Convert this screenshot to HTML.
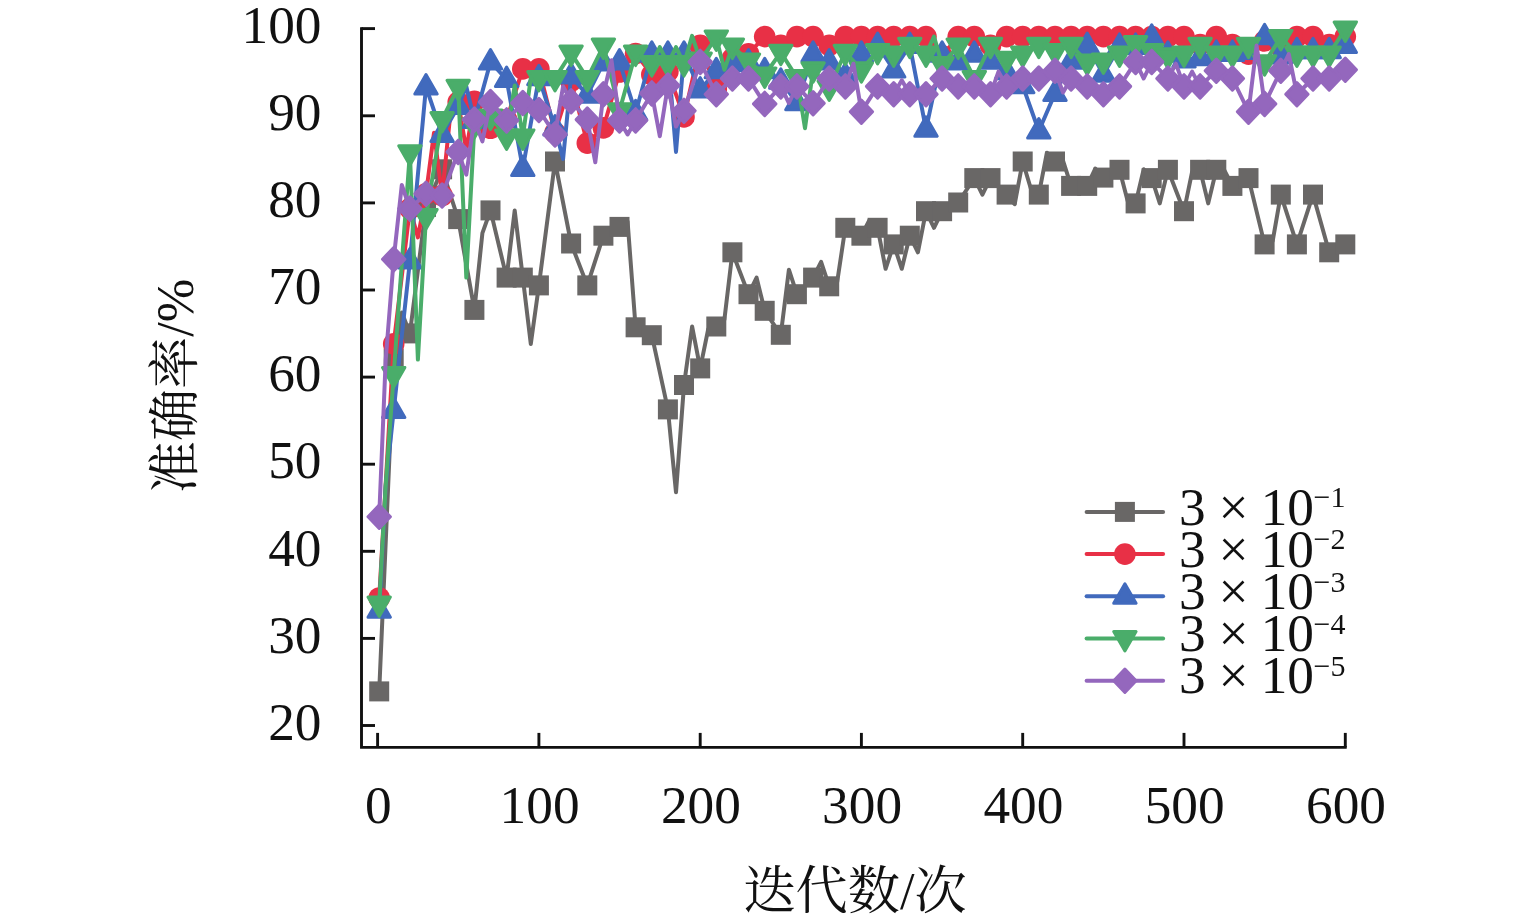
<!DOCTYPE html>
<html lang="zh-CN">
<head>
<meta charset="utf-8">
<title>准确率 / 迭代数</title>
<style>
html,body{margin:0;padding:0;background:#ffffff;}
body{width:1535px;height:924px;overflow:hidden;}
svg{display:block;font-family:"Liberation Serif","Noto Serif CJK SC",serif;}
</style>
</head>
<body>
<svg width="1535" height="924" viewBox="0 0 1535 924">
<rect width="1535" height="924" fill="#ffffff"/>
<g id="axes" stroke="#111111" fill="none" stroke-linecap="butt">
<path d="M361.5,27.2 V747.4 H1346.7" stroke-width="2.9" stroke-linejoin="miter"/>
<line x1="361.5" x2="375.0" y1="725.5" y2="725.5" stroke-width="2.9"/>
<line x1="361.5" x2="375.0" y1="638.4" y2="638.4" stroke-width="2.9"/>
<line x1="361.5" x2="375.0" y1="551.3" y2="551.3" stroke-width="2.9"/>
<line x1="361.5" x2="375.0" y1="464.2" y2="464.2" stroke-width="2.9"/>
<line x1="361.5" x2="375.0" y1="377.1" y2="377.1" stroke-width="2.9"/>
<line x1="361.5" x2="375.0" y1="290.0" y2="290.0" stroke-width="2.9"/>
<line x1="361.5" x2="375.0" y1="202.9" y2="202.9" stroke-width="2.9"/>
<line x1="361.5" x2="375.0" y1="115.8" y2="115.8" stroke-width="2.9"/>
<line x1="361.5" x2="375.0" y1="28.6" y2="28.6" stroke-width="2.9"/>
<line x1="377.6" x2="377.6" y1="747.4" y2="732.9" stroke-width="2.9"/>
<line x1="538.9" x2="538.9" y1="747.4" y2="732.9" stroke-width="2.9"/>
<line x1="700.2" x2="700.2" y1="747.4" y2="732.9" stroke-width="2.9"/>
<line x1="861.4" x2="861.4" y1="747.4" y2="732.9" stroke-width="2.9"/>
<line x1="1022.7" x2="1022.7" y1="747.4" y2="732.9" stroke-width="2.9"/>
<line x1="1184.0" x2="1184.0" y1="747.4" y2="732.9" stroke-width="2.9"/>
<line x1="1345.3" x2="1345.3" y1="747.4" y2="732.9" stroke-width="2.9"/>
</g>
<g id="yticks" font-size="53.3" text-anchor="end" fill="#111111">
<text x="321.5" y="739.7">20</text>
<text x="321.5" y="652.6">30</text>
<text x="321.5" y="565.5">40</text>
<text x="321.5" y="478.4">50</text>
<text x="321.5" y="391.3">60</text>
<text x="321.5" y="304.2">70</text>
<text x="321.5" y="217.1">80</text>
<text x="321.5" y="130.0">90</text>
<text x="321.5" y="42.8">100</text>
</g>
<g id="xticks" font-size="53.3" text-anchor="middle" fill="#111111">
<text x="378.3" y="823.0">0</text>
<text x="539.6" y="823.0">100</text>
<text x="700.9" y="823.0">200</text>
<text x="862.1" y="823.0">300</text>
<text x="1023.4" y="823.0">400</text>
<text x="1184.7" y="823.0">500</text>
<text x="1346.0" y="823.0">600</text>
</g>
<text id="xlabel" x="855" y="909" font-size="52.2" text-anchor="middle" fill="#111111">迭代数/次</text>
<text id="ylabel" transform="translate(193,386) rotate(-90)" font-size="52.2" text-anchor="middle" fill="#111111">准确率/%</text>
<g id="s-gray">
<polyline points="379.2,691.4 393.7,358.8 401.8,312.5 409.9,333.4 426.0,206.9 442.1,169.3 458.2,219.1 474.4,309.9 482.4,233.1 490.5,210.4 506.6,277.6 514.7,210.4 522.8,277.6 530.8,343.9 538.9,285.4 555.0,161.5 571.1,243.5 587.3,285.4 603.4,235.7 619.5,226.9 627.6,221.7 635.6,327.3 651.8,335.2 667.9,409.4 676.0,492.3 684.0,385.0 692.1,326.5 700.2,368.4 708.2,329.1 716.3,326.5 724.4,319.5 732.4,252.3 748.5,294.2 756.6,277.6 764.7,310.8 780.8,334.8 788.9,269.7 796.9,294.2 813.1,277.6 821.1,261.9 829.2,286.3 837.2,281.9 845.3,227.8 861.4,235.7 869.5,220.0 877.6,227.8 885.6,268.8 893.7,244.4 901.8,268.8 909.8,235.7 917.9,252.3 926.0,211.2 934.0,227.8 942.1,211.2 958.2,202.5 974.3,178.1 982.4,194.6 990.5,178.1 1006.6,194.6 1014.7,204.2 1022.7,161.5 1030.8,188.5 1038.8,194.6 1046.9,152.7 1055.0,161.5 1063.0,160.6 1071.1,185.9 1087.2,185.9 1095.3,168.5 1103.4,177.6 1119.5,169.8 1127.6,200.8 1135.6,203.4 1143.7,169.3 1151.7,178.1 1159.8,203.4 1167.9,169.8 1184.0,211.2 1192.1,171.9 1200.1,169.8 1208.2,203.4 1216.3,169.8 1224.3,170.2 1232.4,185.9 1248.5,178.1 1264.6,244.4 1272.7,240.9 1280.8,194.6 1296.9,244.4 1313.0,194.6 1329.2,252.3 1345.3,244.4" fill="none" stroke="#696766" stroke-width="4.0" stroke-linejoin="round" stroke-linecap="round"/>
<rect x="369.2" y="681.4" width="20.0" height="20.0" fill="#696766"/>
<rect x="383.7" y="348.8" width="20.0" height="20.0" fill="#696766"/>
<rect x="399.9" y="323.4" width="20.0" height="20.0" fill="#696766"/>
<rect x="416.0" y="196.9" width="20.0" height="20.0" fill="#696766"/>
<rect x="432.1" y="159.3" width="20.0" height="20.0" fill="#696766"/>
<rect x="448.2" y="209.1" width="20.0" height="20.0" fill="#696766"/>
<rect x="464.4" y="299.9" width="20.0" height="20.0" fill="#696766"/>
<rect x="480.5" y="200.4" width="20.0" height="20.0" fill="#696766"/>
<rect x="496.6" y="267.6" width="20.0" height="20.0" fill="#696766"/>
<rect x="512.8" y="267.6" width="20.0" height="20.0" fill="#696766"/>
<rect x="528.9" y="275.4" width="20.0" height="20.0" fill="#696766"/>
<rect x="545.0" y="151.5" width="20.0" height="20.0" fill="#696766"/>
<rect x="561.1" y="233.5" width="20.0" height="20.0" fill="#696766"/>
<rect x="577.3" y="275.4" width="20.0" height="20.0" fill="#696766"/>
<rect x="593.4" y="225.7" width="20.0" height="20.0" fill="#696766"/>
<rect x="609.5" y="216.9" width="20.0" height="20.0" fill="#696766"/>
<rect x="625.6" y="317.3" width="20.0" height="20.0" fill="#696766"/>
<rect x="641.8" y="325.2" width="20.0" height="20.0" fill="#696766"/>
<rect x="657.9" y="399.4" width="20.0" height="20.0" fill="#696766"/>
<rect x="674.0" y="375.0" width="20.0" height="20.0" fill="#696766"/>
<rect x="690.2" y="358.4" width="20.0" height="20.0" fill="#696766"/>
<rect x="706.3" y="316.5" width="20.0" height="20.0" fill="#696766"/>
<rect x="722.4" y="242.3" width="20.0" height="20.0" fill="#696766"/>
<rect x="738.5" y="284.2" width="20.0" height="20.0" fill="#696766"/>
<rect x="754.7" y="300.8" width="20.0" height="20.0" fill="#696766"/>
<rect x="770.8" y="324.8" width="20.0" height="20.0" fill="#696766"/>
<rect x="786.9" y="284.2" width="20.0" height="20.0" fill="#696766"/>
<rect x="803.1" y="267.6" width="20.0" height="20.0" fill="#696766"/>
<rect x="819.2" y="276.3" width="20.0" height="20.0" fill="#696766"/>
<rect x="835.3" y="217.8" width="20.0" height="20.0" fill="#696766"/>
<rect x="851.4" y="225.7" width="20.0" height="20.0" fill="#696766"/>
<rect x="867.6" y="217.8" width="20.0" height="20.0" fill="#696766"/>
<rect x="883.7" y="234.4" width="20.0" height="20.0" fill="#696766"/>
<rect x="899.8" y="225.7" width="20.0" height="20.0" fill="#696766"/>
<rect x="916.0" y="201.2" width="20.0" height="20.0" fill="#696766"/>
<rect x="932.1" y="201.2" width="20.0" height="20.0" fill="#696766"/>
<rect x="948.2" y="192.5" width="20.0" height="20.0" fill="#696766"/>
<rect x="964.3" y="168.1" width="20.0" height="20.0" fill="#696766"/>
<rect x="980.5" y="168.1" width="20.0" height="20.0" fill="#696766"/>
<rect x="996.6" y="184.6" width="20.0" height="20.0" fill="#696766"/>
<rect x="1012.7" y="151.5" width="20.0" height="20.0" fill="#696766"/>
<rect x="1028.8" y="184.6" width="20.0" height="20.0" fill="#696766"/>
<rect x="1045.0" y="151.5" width="20.0" height="20.0" fill="#696766"/>
<rect x="1061.1" y="175.9" width="20.0" height="20.0" fill="#696766"/>
<rect x="1077.2" y="175.9" width="20.0" height="20.0" fill="#696766"/>
<rect x="1093.4" y="167.6" width="20.0" height="20.0" fill="#696766"/>
<rect x="1109.5" y="159.8" width="20.0" height="20.0" fill="#696766"/>
<rect x="1125.6" y="193.4" width="20.0" height="20.0" fill="#696766"/>
<rect x="1141.7" y="168.1" width="20.0" height="20.0" fill="#696766"/>
<rect x="1157.9" y="159.8" width="20.0" height="20.0" fill="#696766"/>
<rect x="1174.0" y="201.2" width="20.0" height="20.0" fill="#696766"/>
<rect x="1190.1" y="159.8" width="20.0" height="20.0" fill="#696766"/>
<rect x="1206.3" y="159.8" width="20.0" height="20.0" fill="#696766"/>
<rect x="1222.4" y="175.9" width="20.0" height="20.0" fill="#696766"/>
<rect x="1238.5" y="168.1" width="20.0" height="20.0" fill="#696766"/>
<rect x="1254.6" y="234.4" width="20.0" height="20.0" fill="#696766"/>
<rect x="1270.8" y="184.6" width="20.0" height="20.0" fill="#696766"/>
<rect x="1286.9" y="234.4" width="20.0" height="20.0" fill="#696766"/>
<rect x="1303.0" y="184.6" width="20.0" height="20.0" fill="#696766"/>
<rect x="1319.2" y="242.3" width="20.0" height="20.0" fill="#696766"/>
<rect x="1335.3" y="234.4" width="20.0" height="20.0" fill="#696766"/>
</g>
<g id="s-red">
<polyline points="379.2,598.0 393.7,343.9 409.9,208.6 417.9,237.4 426.0,193.8 434.0,132.7 442.1,195.5 450.2,115.2 458.2,102.1 466.3,150.1 474.4,101.2 490.5,128.3 506.6,119.6 522.8,68.9 538.9,68.9 555.0,132.7 571.1,81.2 587.3,143.1 603.4,127.9 619.5,72.0 635.6,53.6 651.8,74.6 667.9,71.6 684.0,116.9 700.2,45.4 716.3,89.0 732.4,58.5 748.5,53.7 764.7,36.6 780.8,45.4 796.9,36.6 813.1,36.6 829.2,45.4 845.3,36.6 861.4,36.6 877.6,36.6 893.7,36.6 909.8,36.6 926.0,36.6 942.1,55.8 958.2,36.6 974.3,36.6 990.5,45.4 1006.6,36.6 1022.7,36.6 1038.8,36.6 1055.0,36.6 1071.1,36.6 1087.2,36.6 1103.4,36.6 1119.5,36.6 1135.6,36.6 1151.7,36.6 1167.9,36.6 1184.0,36.6 1200.1,44.5 1216.3,36.6 1232.4,44.5 1248.5,54.1 1264.6,41.0 1280.8,47.1 1296.9,36.6 1313.0,36.6 1329.2,44.5 1345.3,36.6" fill="none" stroke="#e83046" stroke-width="4.0" stroke-linejoin="round" stroke-linecap="round"/>
<circle cx="379.2" cy="598.0" r="10.8" fill="#e83046"/>
<circle cx="393.7" cy="343.9" r="10.8" fill="#e83046"/>
<circle cx="409.9" cy="208.6" r="10.8" fill="#e83046"/>
<circle cx="426.0" cy="193.8" r="10.8" fill="#e83046"/>
<circle cx="442.1" cy="195.5" r="10.8" fill="#e83046"/>
<circle cx="458.2" cy="102.1" r="10.8" fill="#e83046"/>
<circle cx="474.4" cy="101.2" r="10.8" fill="#e83046"/>
<circle cx="490.5" cy="128.3" r="10.8" fill="#e83046"/>
<circle cx="506.6" cy="119.6" r="10.8" fill="#e83046"/>
<circle cx="522.8" cy="68.9" r="10.8" fill="#e83046"/>
<circle cx="538.9" cy="68.9" r="10.8" fill="#e83046"/>
<circle cx="555.0" cy="132.7" r="10.8" fill="#e83046"/>
<circle cx="571.1" cy="81.2" r="10.8" fill="#e83046"/>
<circle cx="587.3" cy="143.1" r="10.8" fill="#e83046"/>
<circle cx="603.4" cy="127.9" r="10.8" fill="#e83046"/>
<circle cx="619.5" cy="72.0" r="10.8" fill="#e83046"/>
<circle cx="635.6" cy="53.6" r="10.8" fill="#e83046"/>
<circle cx="651.8" cy="74.6" r="10.8" fill="#e83046"/>
<circle cx="667.9" cy="71.6" r="10.8" fill="#e83046"/>
<circle cx="684.0" cy="116.9" r="10.8" fill="#e83046"/>
<circle cx="700.2" cy="45.4" r="10.8" fill="#e83046"/>
<circle cx="716.3" cy="89.0" r="10.8" fill="#e83046"/>
<circle cx="732.4" cy="58.5" r="10.8" fill="#e83046"/>
<circle cx="748.5" cy="53.7" r="10.8" fill="#e83046"/>
<circle cx="764.7" cy="36.6" r="10.8" fill="#e83046"/>
<circle cx="780.8" cy="45.4" r="10.8" fill="#e83046"/>
<circle cx="796.9" cy="36.6" r="10.8" fill="#e83046"/>
<circle cx="813.1" cy="36.6" r="10.8" fill="#e83046"/>
<circle cx="829.2" cy="45.4" r="10.8" fill="#e83046"/>
<circle cx="845.3" cy="36.6" r="10.8" fill="#e83046"/>
<circle cx="861.4" cy="36.6" r="10.8" fill="#e83046"/>
<circle cx="877.6" cy="36.6" r="10.8" fill="#e83046"/>
<circle cx="893.7" cy="36.6" r="10.8" fill="#e83046"/>
<circle cx="909.8" cy="36.6" r="10.8" fill="#e83046"/>
<circle cx="926.0" cy="36.6" r="10.8" fill="#e83046"/>
<circle cx="942.1" cy="55.8" r="10.8" fill="#e83046"/>
<circle cx="958.2" cy="36.6" r="10.8" fill="#e83046"/>
<circle cx="974.3" cy="36.6" r="10.8" fill="#e83046"/>
<circle cx="990.5" cy="45.4" r="10.8" fill="#e83046"/>
<circle cx="1006.6" cy="36.6" r="10.8" fill="#e83046"/>
<circle cx="1022.7" cy="36.6" r="10.8" fill="#e83046"/>
<circle cx="1038.8" cy="36.6" r="10.8" fill="#e83046"/>
<circle cx="1055.0" cy="36.6" r="10.8" fill="#e83046"/>
<circle cx="1071.1" cy="36.6" r="10.8" fill="#e83046"/>
<circle cx="1087.2" cy="36.6" r="10.8" fill="#e83046"/>
<circle cx="1103.4" cy="36.6" r="10.8" fill="#e83046"/>
<circle cx="1119.5" cy="36.6" r="10.8" fill="#e83046"/>
<circle cx="1135.6" cy="36.6" r="10.8" fill="#e83046"/>
<circle cx="1151.7" cy="36.6" r="10.8" fill="#e83046"/>
<circle cx="1167.9" cy="36.6" r="10.8" fill="#e83046"/>
<circle cx="1184.0" cy="36.6" r="10.8" fill="#e83046"/>
<circle cx="1200.1" cy="44.5" r="10.8" fill="#e83046"/>
<circle cx="1216.3" cy="36.6" r="10.8" fill="#e83046"/>
<circle cx="1232.4" cy="44.5" r="10.8" fill="#e83046"/>
<circle cx="1248.5" cy="54.1" r="10.8" fill="#e83046"/>
<circle cx="1264.6" cy="41.0" r="10.8" fill="#e83046"/>
<circle cx="1280.8" cy="47.1" r="10.8" fill="#e83046"/>
<circle cx="1296.9" cy="36.6" r="10.8" fill="#e83046"/>
<circle cx="1313.0" cy="36.6" r="10.8" fill="#e83046"/>
<circle cx="1329.2" cy="44.5" r="10.8" fill="#e83046"/>
<circle cx="1345.3" cy="36.6" r="10.8" fill="#e83046"/>
</g>
<g id="s-blue">
<polyline points="379.2,610.3 385.7,485.4 393.7,410.4 409.9,261.1 426.0,86.9 442.1,134.5 458.2,106.6 466.3,86.4 474.4,120.5 490.5,62.0 506.6,79.5 522.8,168.5 538.9,77.7 555.0,127.9 563.1,158.9 571.1,76.0 587.3,95.2 603.4,62.9 619.5,62.0 635.6,112.7 651.8,54.2 667.9,54.2 676.0,151.9 684.0,54.2 700.2,90.0 716.3,70.8 732.4,63.8 748.5,62.0 764.7,70.8 780.8,81.2 796.9,102.6 813.1,54.2 829.2,62.0 845.3,76.0 861.4,54.2 877.6,45.4 893.7,69.9 909.8,45.4 926.0,129.3 942.1,54.2 958.2,62.0 974.3,54.2 990.5,61.2 1006.6,71.6 1022.7,85.6 1038.8,131.0 1055.0,93.5 1071.1,61.2 1087.2,45.4 1103.4,74.3 1119.5,46.3 1135.6,46.3 1151.7,37.2 1167.9,54.2 1184.0,59.9 1200.1,57.7 1216.3,53.3 1232.4,53.3 1248.5,51.6 1264.6,36.7 1280.8,55.9 1296.9,50.7 1313.0,50.7 1329.2,50.7 1345.3,45.4" fill="none" stroke="#416abd" stroke-width="4.0" stroke-linejoin="round" stroke-linecap="round"/>
<polygon points="379.2,597.8 390.4,617.3 368.0,617.3" fill="#416abd" stroke="#416abd" stroke-width="3.0" stroke-linejoin="round"/>
<polygon points="393.7,397.9 404.9,417.4 382.5,417.4" fill="#416abd" stroke="#416abd" stroke-width="3.0" stroke-linejoin="round"/>
<polygon points="409.9,248.6 421.1,268.1 398.7,268.1" fill="#416abd" stroke="#416abd" stroke-width="3.0" stroke-linejoin="round"/>
<polygon points="426.0,74.5 437.2,94.0 414.8,94.0" fill="#416abd" stroke="#416abd" stroke-width="3.0" stroke-linejoin="round"/>
<polygon points="442.1,122.0 453.3,141.5 430.9,141.5" fill="#416abd" stroke="#416abd" stroke-width="3.0" stroke-linejoin="round"/>
<polygon points="458.2,94.1 469.4,113.6 447.0,113.6" fill="#416abd" stroke="#416abd" stroke-width="3.0" stroke-linejoin="round"/>
<polygon points="474.4,108.1 485.6,127.6 463.2,127.6" fill="#416abd" stroke="#416abd" stroke-width="3.0" stroke-linejoin="round"/>
<polygon points="490.5,49.6 501.7,69.1 479.3,69.1" fill="#416abd" stroke="#416abd" stroke-width="3.0" stroke-linejoin="round"/>
<polygon points="506.6,67.0 517.8,86.5 495.4,86.5" fill="#416abd" stroke="#416abd" stroke-width="3.0" stroke-linejoin="round"/>
<polygon points="522.8,156.1 534.0,175.6 511.6,175.6" fill="#416abd" stroke="#416abd" stroke-width="3.0" stroke-linejoin="round"/>
<polygon points="538.9,65.3 550.1,84.8 527.7,84.8" fill="#416abd" stroke="#416abd" stroke-width="3.0" stroke-linejoin="round"/>
<polygon points="555.0,115.5 566.2,135.0 543.8,135.0" fill="#416abd" stroke="#416abd" stroke-width="3.0" stroke-linejoin="round"/>
<polygon points="571.1,63.6 582.3,83.1 559.9,83.1" fill="#416abd" stroke="#416abd" stroke-width="3.0" stroke-linejoin="round"/>
<polygon points="587.3,82.8 598.5,102.3 576.1,102.3" fill="#416abd" stroke="#416abd" stroke-width="3.0" stroke-linejoin="round"/>
<polygon points="603.4,50.5 614.6,70.0 592.2,70.0" fill="#416abd" stroke="#416abd" stroke-width="3.0" stroke-linejoin="round"/>
<polygon points="619.5,49.6 630.7,69.1 608.3,69.1" fill="#416abd" stroke="#416abd" stroke-width="3.0" stroke-linejoin="round"/>
<polygon points="635.6,100.2 646.8,119.7 624.4,119.7" fill="#416abd" stroke="#416abd" stroke-width="3.0" stroke-linejoin="round"/>
<polygon points="651.8,41.7 663.0,61.2 640.6,61.2" fill="#416abd" stroke="#416abd" stroke-width="3.0" stroke-linejoin="round"/>
<polygon points="667.9,41.7 679.1,61.2 656.7,61.2" fill="#416abd" stroke="#416abd" stroke-width="3.0" stroke-linejoin="round"/>
<polygon points="684.0,41.7 695.2,61.2 672.8,61.2" fill="#416abd" stroke="#416abd" stroke-width="3.0" stroke-linejoin="round"/>
<polygon points="700.2,77.5 711.4,97.0 689.0,97.0" fill="#416abd" stroke="#416abd" stroke-width="3.0" stroke-linejoin="round"/>
<polygon points="716.3,58.3 727.5,77.8 705.1,77.8" fill="#416abd" stroke="#416abd" stroke-width="3.0" stroke-linejoin="round"/>
<polygon points="732.4,51.3 743.6,70.8 721.2,70.8" fill="#416abd" stroke="#416abd" stroke-width="3.0" stroke-linejoin="round"/>
<polygon points="748.5,49.6 759.7,69.1 737.3,69.1" fill="#416abd" stroke="#416abd" stroke-width="3.0" stroke-linejoin="round"/>
<polygon points="764.7,58.3 775.9,77.8 753.5,77.8" fill="#416abd" stroke="#416abd" stroke-width="3.0" stroke-linejoin="round"/>
<polygon points="780.8,68.8 792.0,88.3 769.6,88.3" fill="#416abd" stroke="#416abd" stroke-width="3.0" stroke-linejoin="round"/>
<polygon points="796.9,90.2 808.1,109.7 785.7,109.7" fill="#416abd" stroke="#416abd" stroke-width="3.0" stroke-linejoin="round"/>
<polygon points="813.1,41.7 824.3,61.2 801.9,61.2" fill="#416abd" stroke="#416abd" stroke-width="3.0" stroke-linejoin="round"/>
<polygon points="829.2,49.6 840.4,69.1 818.0,69.1" fill="#416abd" stroke="#416abd" stroke-width="3.0" stroke-linejoin="round"/>
<polygon points="845.3,63.6 856.5,83.1 834.1,83.1" fill="#416abd" stroke="#416abd" stroke-width="3.0" stroke-linejoin="round"/>
<polygon points="861.4,41.7 872.6,61.2 850.2,61.2" fill="#416abd" stroke="#416abd" stroke-width="3.0" stroke-linejoin="round"/>
<polygon points="877.6,33.0 888.8,52.5 866.4,52.5" fill="#416abd" stroke="#416abd" stroke-width="3.0" stroke-linejoin="round"/>
<polygon points="893.7,57.4 904.9,76.9 882.5,76.9" fill="#416abd" stroke="#416abd" stroke-width="3.0" stroke-linejoin="round"/>
<polygon points="909.8,33.0 921.0,52.5 898.6,52.5" fill="#416abd" stroke="#416abd" stroke-width="3.0" stroke-linejoin="round"/>
<polygon points="926.0,116.8 937.2,136.3 914.8,136.3" fill="#416abd" stroke="#416abd" stroke-width="3.0" stroke-linejoin="round"/>
<polygon points="942.1,41.7 953.3,61.2 930.9,61.2" fill="#416abd" stroke="#416abd" stroke-width="3.0" stroke-linejoin="round"/>
<polygon points="958.2,49.6 969.4,69.1 947.0,69.1" fill="#416abd" stroke="#416abd" stroke-width="3.0" stroke-linejoin="round"/>
<polygon points="974.3,41.7 985.5,61.2 963.1,61.2" fill="#416abd" stroke="#416abd" stroke-width="3.0" stroke-linejoin="round"/>
<polygon points="990.5,48.7 1001.7,68.2 979.3,68.2" fill="#416abd" stroke="#416abd" stroke-width="3.0" stroke-linejoin="round"/>
<polygon points="1006.6,59.2 1017.8,78.7 995.4,78.7" fill="#416abd" stroke="#416abd" stroke-width="3.0" stroke-linejoin="round"/>
<polygon points="1022.7,73.2 1033.9,92.7 1011.5,92.7" fill="#416abd" stroke="#416abd" stroke-width="3.0" stroke-linejoin="round"/>
<polygon points="1038.8,118.6 1050.0,138.1 1027.6,138.1" fill="#416abd" stroke="#416abd" stroke-width="3.0" stroke-linejoin="round"/>
<polygon points="1055.0,81.0 1066.2,100.5 1043.8,100.5" fill="#416abd" stroke="#416abd" stroke-width="3.0" stroke-linejoin="round"/>
<polygon points="1071.1,48.7 1082.3,68.2 1059.9,68.2" fill="#416abd" stroke="#416abd" stroke-width="3.0" stroke-linejoin="round"/>
<polygon points="1087.2,33.0 1098.4,52.5 1076.0,52.5" fill="#416abd" stroke="#416abd" stroke-width="3.0" stroke-linejoin="round"/>
<polygon points="1103.4,61.8 1114.6,81.3 1092.2,81.3" fill="#416abd" stroke="#416abd" stroke-width="3.0" stroke-linejoin="round"/>
<polygon points="1119.5,33.9 1130.7,53.4 1108.3,53.4" fill="#416abd" stroke="#416abd" stroke-width="3.0" stroke-linejoin="round"/>
<polygon points="1135.6,33.9 1146.8,53.4 1124.4,53.4" fill="#416abd" stroke="#416abd" stroke-width="3.0" stroke-linejoin="round"/>
<polygon points="1151.7,24.7 1162.9,44.2 1140.5,44.2" fill="#416abd" stroke="#416abd" stroke-width="3.0" stroke-linejoin="round"/>
<polygon points="1167.9,41.7 1179.1,61.2 1156.7,61.2" fill="#416abd" stroke="#416abd" stroke-width="3.0" stroke-linejoin="round"/>
<polygon points="1184.0,47.4 1195.2,66.9 1172.8,66.9" fill="#416abd" stroke="#416abd" stroke-width="3.0" stroke-linejoin="round"/>
<polygon points="1200.1,45.2 1211.3,64.7 1188.9,64.7" fill="#416abd" stroke="#416abd" stroke-width="3.0" stroke-linejoin="round"/>
<polygon points="1216.3,40.9 1227.5,60.4 1205.1,60.4" fill="#416abd" stroke="#416abd" stroke-width="3.0" stroke-linejoin="round"/>
<polygon points="1232.4,40.9 1243.6,60.4 1221.2,60.4" fill="#416abd" stroke="#416abd" stroke-width="3.0" stroke-linejoin="round"/>
<polygon points="1248.5,39.1 1259.7,58.6 1237.3,58.6" fill="#416abd" stroke="#416abd" stroke-width="3.0" stroke-linejoin="round"/>
<polygon points="1264.6,24.3 1275.8,43.8 1253.4,43.8" fill="#416abd" stroke="#416abd" stroke-width="3.0" stroke-linejoin="round"/>
<polygon points="1280.8,43.5 1292.0,63.0 1269.6,63.0" fill="#416abd" stroke="#416abd" stroke-width="3.0" stroke-linejoin="round"/>
<polygon points="1296.9,38.2 1308.1,57.7 1285.7,57.7" fill="#416abd" stroke="#416abd" stroke-width="3.0" stroke-linejoin="round"/>
<polygon points="1313.0,38.2 1324.2,57.7 1301.8,57.7" fill="#416abd" stroke="#416abd" stroke-width="3.0" stroke-linejoin="round"/>
<polygon points="1329.2,38.2 1340.4,57.7 1318.0,57.7" fill="#416abd" stroke="#416abd" stroke-width="3.0" stroke-linejoin="round"/>
<polygon points="1345.3,33.0 1356.5,52.5 1334.1,52.5" fill="#416abd" stroke="#416abd" stroke-width="3.0" stroke-linejoin="round"/>
</g>
<g id="s-green">
<polyline points="379.2,604.0 385.7,485.4 393.7,374.4 409.9,152.7 417.9,359.6 426.0,216.4 442.1,119.5 458.2,87.2 466.3,277.6 474.4,125.6 490.5,116.9 506.6,136.9 514.7,85.5 522.8,136.9 530.8,77.7 538.9,78.4 555.0,78.4 571.1,53.1 587.3,78.4 603.4,46.1 619.5,110.7 635.6,53.1 651.8,63.6 659.8,47.1 667.9,63.6 676.0,47.1 684.0,63.6 692.1,35.8 700.2,60.1 716.3,37.9 724.4,69.8 732.4,46.1 748.5,61.0 764.7,75.0 780.8,52.3 796.9,77.6 805.0,128.3 813.1,69.7 829.2,88.0 845.3,52.3 861.4,69.7 877.6,51.4 893.7,54.0 909.8,45.3 926.0,54.0 934.0,36.6 942.1,64.5 958.2,46.1 974.3,78.4 990.5,45.3 1006.6,59.2 1022.7,54.0 1038.8,45.3 1055.0,51.4 1071.1,45.3 1087.2,61.9 1103.4,61.0 1119.5,54.0 1135.6,43.5 1151.7,51.4 1167.9,55.7 1184.0,54.0 1200.1,45.3 1216.3,54.0 1232.4,54.0 1248.5,45.3 1264.6,62.7 1280.8,37.4 1296.9,54.0 1313.0,54.0 1329.2,54.0 1345.3,28.9" fill="none" stroke="#4aad6a" stroke-width="4.0" stroke-linejoin="round" stroke-linecap="round"/>
<polygon points="379.2,616.5 390.4,597.0 368.0,597.0" fill="#4aad6a" stroke="#4aad6a" stroke-width="3.0" stroke-linejoin="round"/>
<polygon points="393.7,386.9 404.9,367.4 382.5,367.4" fill="#4aad6a" stroke="#4aad6a" stroke-width="3.0" stroke-linejoin="round"/>
<polygon points="409.9,165.2 421.1,145.7 398.7,145.7" fill="#4aad6a" stroke="#4aad6a" stroke-width="3.0" stroke-linejoin="round"/>
<polygon points="426.0,228.9 437.2,209.4 414.8,209.4" fill="#4aad6a" stroke="#4aad6a" stroke-width="3.0" stroke-linejoin="round"/>
<polygon points="442.1,132.0 453.3,112.5 430.9,112.5" fill="#4aad6a" stroke="#4aad6a" stroke-width="3.0" stroke-linejoin="round"/>
<polygon points="458.2,99.7 469.4,80.2 447.0,80.2" fill="#4aad6a" stroke="#4aad6a" stroke-width="3.0" stroke-linejoin="round"/>
<polygon points="474.4,138.1 485.6,118.6 463.2,118.6" fill="#4aad6a" stroke="#4aad6a" stroke-width="3.0" stroke-linejoin="round"/>
<polygon points="490.5,129.4 501.7,109.9 479.3,109.9" fill="#4aad6a" stroke="#4aad6a" stroke-width="3.0" stroke-linejoin="round"/>
<polygon points="506.6,149.4 517.8,129.9 495.4,129.9" fill="#4aad6a" stroke="#4aad6a" stroke-width="3.0" stroke-linejoin="round"/>
<polygon points="522.8,149.4 534.0,129.9 511.6,129.9" fill="#4aad6a" stroke="#4aad6a" stroke-width="3.0" stroke-linejoin="round"/>
<polygon points="538.9,90.9 550.1,71.4 527.7,71.4" fill="#4aad6a" stroke="#4aad6a" stroke-width="3.0" stroke-linejoin="round"/>
<polygon points="555.0,90.9 566.2,71.4 543.8,71.4" fill="#4aad6a" stroke="#4aad6a" stroke-width="3.0" stroke-linejoin="round"/>
<polygon points="571.1,65.6 582.3,46.1 559.9,46.1" fill="#4aad6a" stroke="#4aad6a" stroke-width="3.0" stroke-linejoin="round"/>
<polygon points="587.3,90.9 598.5,71.4 576.1,71.4" fill="#4aad6a" stroke="#4aad6a" stroke-width="3.0" stroke-linejoin="round"/>
<polygon points="603.4,58.6 614.6,39.1 592.2,39.1" fill="#4aad6a" stroke="#4aad6a" stroke-width="3.0" stroke-linejoin="round"/>
<polygon points="619.5,123.2 630.7,103.7 608.3,103.7" fill="#4aad6a" stroke="#4aad6a" stroke-width="3.0" stroke-linejoin="round"/>
<polygon points="635.6,65.6 646.8,46.1 624.4,46.1" fill="#4aad6a" stroke="#4aad6a" stroke-width="3.0" stroke-linejoin="round"/>
<polygon points="651.8,76.1 663.0,56.6 640.6,56.6" fill="#4aad6a" stroke="#4aad6a" stroke-width="3.0" stroke-linejoin="round"/>
<polygon points="667.9,76.1 679.1,56.6 656.7,56.6" fill="#4aad6a" stroke="#4aad6a" stroke-width="3.0" stroke-linejoin="round"/>
<polygon points="684.0,76.1 695.2,56.6 672.8,56.6" fill="#4aad6a" stroke="#4aad6a" stroke-width="3.0" stroke-linejoin="round"/>
<polygon points="700.2,72.6 711.4,53.1 689.0,53.1" fill="#4aad6a" stroke="#4aad6a" stroke-width="3.0" stroke-linejoin="round"/>
<polygon points="716.3,50.4 727.5,30.9 705.1,30.9" fill="#4aad6a" stroke="#4aad6a" stroke-width="3.0" stroke-linejoin="round"/>
<polygon points="732.4,58.6 743.6,39.1 721.2,39.1" fill="#4aad6a" stroke="#4aad6a" stroke-width="3.0" stroke-linejoin="round"/>
<polygon points="748.5,73.5 759.7,54.0 737.3,54.0" fill="#4aad6a" stroke="#4aad6a" stroke-width="3.0" stroke-linejoin="round"/>
<polygon points="764.7,87.5 775.9,68.0 753.5,68.0" fill="#4aad6a" stroke="#4aad6a" stroke-width="3.0" stroke-linejoin="round"/>
<polygon points="780.8,64.8 792.0,45.3 769.6,45.3" fill="#4aad6a" stroke="#4aad6a" stroke-width="3.0" stroke-linejoin="round"/>
<polygon points="796.9,90.1 808.1,70.6 785.7,70.6" fill="#4aad6a" stroke="#4aad6a" stroke-width="3.0" stroke-linejoin="round"/>
<polygon points="813.1,82.2 824.3,62.7 801.9,62.7" fill="#4aad6a" stroke="#4aad6a" stroke-width="3.0" stroke-linejoin="round"/>
<polygon points="829.2,100.5 840.4,81.0 818.0,81.0" fill="#4aad6a" stroke="#4aad6a" stroke-width="3.0" stroke-linejoin="round"/>
<polygon points="845.3,64.8 856.5,45.3 834.1,45.3" fill="#4aad6a" stroke="#4aad6a" stroke-width="3.0" stroke-linejoin="round"/>
<polygon points="861.4,82.2 872.6,62.7 850.2,62.7" fill="#4aad6a" stroke="#4aad6a" stroke-width="3.0" stroke-linejoin="round"/>
<polygon points="877.6,63.9 888.8,44.4 866.4,44.4" fill="#4aad6a" stroke="#4aad6a" stroke-width="3.0" stroke-linejoin="round"/>
<polygon points="893.7,66.5 904.9,47.0 882.5,47.0" fill="#4aad6a" stroke="#4aad6a" stroke-width="3.0" stroke-linejoin="round"/>
<polygon points="909.8,57.8 921.0,38.3 898.6,38.3" fill="#4aad6a" stroke="#4aad6a" stroke-width="3.0" stroke-linejoin="round"/>
<polygon points="926.0,66.5 937.2,47.0 914.8,47.0" fill="#4aad6a" stroke="#4aad6a" stroke-width="3.0" stroke-linejoin="round"/>
<polygon points="942.1,77.0 953.3,57.5 930.9,57.5" fill="#4aad6a" stroke="#4aad6a" stroke-width="3.0" stroke-linejoin="round"/>
<polygon points="958.2,58.6 969.4,39.1 947.0,39.1" fill="#4aad6a" stroke="#4aad6a" stroke-width="3.0" stroke-linejoin="round"/>
<polygon points="974.3,90.9 985.5,71.4 963.1,71.4" fill="#4aad6a" stroke="#4aad6a" stroke-width="3.0" stroke-linejoin="round"/>
<polygon points="990.5,57.8 1001.7,38.3 979.3,38.3" fill="#4aad6a" stroke="#4aad6a" stroke-width="3.0" stroke-linejoin="round"/>
<polygon points="1006.6,71.7 1017.8,52.2 995.4,52.2" fill="#4aad6a" stroke="#4aad6a" stroke-width="3.0" stroke-linejoin="round"/>
<polygon points="1022.7,66.5 1033.9,47.0 1011.5,47.0" fill="#4aad6a" stroke="#4aad6a" stroke-width="3.0" stroke-linejoin="round"/>
<polygon points="1038.8,57.8 1050.0,38.3 1027.6,38.3" fill="#4aad6a" stroke="#4aad6a" stroke-width="3.0" stroke-linejoin="round"/>
<polygon points="1055.0,63.9 1066.2,44.4 1043.8,44.4" fill="#4aad6a" stroke="#4aad6a" stroke-width="3.0" stroke-linejoin="round"/>
<polygon points="1071.1,57.8 1082.3,38.3 1059.9,38.3" fill="#4aad6a" stroke="#4aad6a" stroke-width="3.0" stroke-linejoin="round"/>
<polygon points="1087.2,74.4 1098.4,54.9 1076.0,54.9" fill="#4aad6a" stroke="#4aad6a" stroke-width="3.0" stroke-linejoin="round"/>
<polygon points="1103.4,73.5 1114.6,54.0 1092.2,54.0" fill="#4aad6a" stroke="#4aad6a" stroke-width="3.0" stroke-linejoin="round"/>
<polygon points="1119.5,66.5 1130.7,47.0 1108.3,47.0" fill="#4aad6a" stroke="#4aad6a" stroke-width="3.0" stroke-linejoin="round"/>
<polygon points="1135.6,56.0 1146.8,36.5 1124.4,36.5" fill="#4aad6a" stroke="#4aad6a" stroke-width="3.0" stroke-linejoin="round"/>
<polygon points="1151.7,63.9 1162.9,44.4 1140.5,44.4" fill="#4aad6a" stroke="#4aad6a" stroke-width="3.0" stroke-linejoin="round"/>
<polygon points="1167.9,68.2 1179.1,48.7 1156.7,48.7" fill="#4aad6a" stroke="#4aad6a" stroke-width="3.0" stroke-linejoin="round"/>
<polygon points="1184.0,66.5 1195.2,47.0 1172.8,47.0" fill="#4aad6a" stroke="#4aad6a" stroke-width="3.0" stroke-linejoin="round"/>
<polygon points="1200.1,57.8 1211.3,38.3 1188.9,38.3" fill="#4aad6a" stroke="#4aad6a" stroke-width="3.0" stroke-linejoin="round"/>
<polygon points="1216.3,66.5 1227.5,47.0 1205.1,47.0" fill="#4aad6a" stroke="#4aad6a" stroke-width="3.0" stroke-linejoin="round"/>
<polygon points="1232.4,66.5 1243.6,47.0 1221.2,47.0" fill="#4aad6a" stroke="#4aad6a" stroke-width="3.0" stroke-linejoin="round"/>
<polygon points="1248.5,57.8 1259.7,38.3 1237.3,38.3" fill="#4aad6a" stroke="#4aad6a" stroke-width="3.0" stroke-linejoin="round"/>
<polygon points="1264.6,75.2 1275.8,55.7 1253.4,55.7" fill="#4aad6a" stroke="#4aad6a" stroke-width="3.0" stroke-linejoin="round"/>
<polygon points="1280.8,49.9 1292.0,30.4 1269.6,30.4" fill="#4aad6a" stroke="#4aad6a" stroke-width="3.0" stroke-linejoin="round"/>
<polygon points="1296.9,66.5 1308.1,47.0 1285.7,47.0" fill="#4aad6a" stroke="#4aad6a" stroke-width="3.0" stroke-linejoin="round"/>
<polygon points="1313.0,66.5 1324.2,47.0 1301.8,47.0" fill="#4aad6a" stroke="#4aad6a" stroke-width="3.0" stroke-linejoin="round"/>
<polygon points="1329.2,66.5 1340.4,47.0 1318.0,47.0" fill="#4aad6a" stroke="#4aad6a" stroke-width="3.0" stroke-linejoin="round"/>
<polygon points="1345.3,41.4 1356.5,21.9 1334.1,21.9" fill="#4aad6a" stroke="#4aad6a" stroke-width="3.0" stroke-linejoin="round"/>
</g>
<g id="s-purple">
<polyline points="379.2,516.8 385.7,359.6 393.7,259.2 401.8,185.0 409.9,208.6 426.0,193.8 442.1,195.5 458.2,151.9 466.3,174.6 474.4,119.6 482.4,141.4 490.5,102.1 506.6,120.4 522.8,103.0 538.9,110.0 555.0,134.4 563.1,86.4 571.1,101.2 587.3,119.6 595.3,162.3 603.4,94.2 611.5,60.2 619.5,120.4 627.6,134.4 635.6,120.4 651.8,93.4 659.8,136.2 667.9,85.5 676.0,126.5 684.0,110.8 700.2,61.9 716.3,94.2 732.4,78.5 748.5,78.5 764.7,103.9 780.8,86.4 788.9,103.0 796.9,86.4 813.1,103.3 829.2,78.5 845.3,86.4 853.4,63.7 861.4,111.7 877.6,86.4 893.7,94.2 901.8,80.3 909.8,94.2 926.0,94.2 942.1,78.5 958.2,86.4 974.3,86.4 990.5,94.2 998.5,71.6 1006.6,86.4 1022.7,78.5 1038.8,78.5 1055.0,70.7 1063.0,92.5 1071.1,78.5 1087.2,86.4 1103.4,94.2 1119.5,86.4 1135.6,61.9 1143.7,78.5 1151.7,61.9 1167.9,78.5 1175.9,63.7 1184.0,86.4 1192.1,71.6 1200.1,86.4 1216.3,70.7 1232.4,78.5 1248.5,111.7 1256.6,45.4 1264.6,103.9 1280.8,70.7 1288.8,54.1 1296.9,94.2 1313.0,78.5 1329.2,78.5 1345.3,69.8" fill="none" stroke="#9467bd" stroke-width="4.0" stroke-linejoin="round" stroke-linecap="round"/>
<polygon points="379.2,505.1 390.4,516.8 379.2,528.5 368.0,516.8" fill="#9467bd" stroke="#9467bd" stroke-width="3.0" stroke-linejoin="round"/>
<polygon points="393.7,247.5 404.9,259.2 393.7,270.9 382.5,259.2" fill="#9467bd" stroke="#9467bd" stroke-width="3.0" stroke-linejoin="round"/>
<polygon points="409.9,196.9 421.1,208.6 409.9,220.3 398.7,208.6" fill="#9467bd" stroke="#9467bd" stroke-width="3.0" stroke-linejoin="round"/>
<polygon points="426.0,182.1 437.2,193.8 426.0,205.5 414.8,193.8" fill="#9467bd" stroke="#9467bd" stroke-width="3.0" stroke-linejoin="round"/>
<polygon points="442.1,183.8 453.3,195.5 442.1,207.2 430.9,195.5" fill="#9467bd" stroke="#9467bd" stroke-width="3.0" stroke-linejoin="round"/>
<polygon points="458.2,140.2 469.4,151.9 458.2,163.6 447.0,151.9" fill="#9467bd" stroke="#9467bd" stroke-width="3.0" stroke-linejoin="round"/>
<polygon points="474.4,107.9 485.6,119.6 474.4,131.3 463.2,119.6" fill="#9467bd" stroke="#9467bd" stroke-width="3.0" stroke-linejoin="round"/>
<polygon points="490.5,90.4 501.7,102.1 490.5,113.8 479.3,102.1" fill="#9467bd" stroke="#9467bd" stroke-width="3.0" stroke-linejoin="round"/>
<polygon points="506.6,108.7 517.8,120.4 506.6,132.1 495.4,120.4" fill="#9467bd" stroke="#9467bd" stroke-width="3.0" stroke-linejoin="round"/>
<polygon points="522.8,91.3 534.0,103.0 522.8,114.7 511.6,103.0" fill="#9467bd" stroke="#9467bd" stroke-width="3.0" stroke-linejoin="round"/>
<polygon points="538.9,98.3 550.1,110.0 538.9,121.7 527.7,110.0" fill="#9467bd" stroke="#9467bd" stroke-width="3.0" stroke-linejoin="round"/>
<polygon points="555.0,122.7 566.2,134.4 555.0,146.1 543.8,134.4" fill="#9467bd" stroke="#9467bd" stroke-width="3.0" stroke-linejoin="round"/>
<polygon points="571.1,89.5 582.3,101.2 571.1,112.9 559.9,101.2" fill="#9467bd" stroke="#9467bd" stroke-width="3.0" stroke-linejoin="round"/>
<polygon points="587.3,107.9 598.5,119.6 587.3,131.3 576.1,119.6" fill="#9467bd" stroke="#9467bd" stroke-width="3.0" stroke-linejoin="round"/>
<polygon points="603.4,82.5 614.6,94.2 603.4,105.9 592.2,94.2" fill="#9467bd" stroke="#9467bd" stroke-width="3.0" stroke-linejoin="round"/>
<polygon points="619.5,108.7 630.7,120.4 619.5,132.1 608.3,120.4" fill="#9467bd" stroke="#9467bd" stroke-width="3.0" stroke-linejoin="round"/>
<polygon points="635.6,108.7 646.8,120.4 635.6,132.1 624.4,120.4" fill="#9467bd" stroke="#9467bd" stroke-width="3.0" stroke-linejoin="round"/>
<polygon points="651.8,81.7 663.0,93.4 651.8,105.1 640.6,93.4" fill="#9467bd" stroke="#9467bd" stroke-width="3.0" stroke-linejoin="round"/>
<polygon points="667.9,73.8 679.1,85.5 667.9,97.2 656.7,85.5" fill="#9467bd" stroke="#9467bd" stroke-width="3.0" stroke-linejoin="round"/>
<polygon points="684.0,99.1 695.2,110.8 684.0,122.5 672.8,110.8" fill="#9467bd" stroke="#9467bd" stroke-width="3.0" stroke-linejoin="round"/>
<polygon points="700.2,50.2 711.4,61.9 700.2,73.6 689.0,61.9" fill="#9467bd" stroke="#9467bd" stroke-width="3.0" stroke-linejoin="round"/>
<polygon points="716.3,82.5 727.5,94.2 716.3,105.9 705.1,94.2" fill="#9467bd" stroke="#9467bd" stroke-width="3.0" stroke-linejoin="round"/>
<polygon points="732.4,66.8 743.6,78.5 732.4,90.2 721.2,78.5" fill="#9467bd" stroke="#9467bd" stroke-width="3.0" stroke-linejoin="round"/>
<polygon points="748.5,66.8 759.7,78.5 748.5,90.2 737.3,78.5" fill="#9467bd" stroke="#9467bd" stroke-width="3.0" stroke-linejoin="round"/>
<polygon points="764.7,92.2 775.9,103.9 764.7,115.6 753.5,103.9" fill="#9467bd" stroke="#9467bd" stroke-width="3.0" stroke-linejoin="round"/>
<polygon points="780.8,74.7 792.0,86.4 780.8,98.1 769.6,86.4" fill="#9467bd" stroke="#9467bd" stroke-width="3.0" stroke-linejoin="round"/>
<polygon points="796.9,74.7 808.1,86.4 796.9,98.1 785.7,86.4" fill="#9467bd" stroke="#9467bd" stroke-width="3.0" stroke-linejoin="round"/>
<polygon points="813.1,91.6 824.3,103.3 813.1,115.0 801.9,103.3" fill="#9467bd" stroke="#9467bd" stroke-width="3.0" stroke-linejoin="round"/>
<polygon points="829.2,66.8 840.4,78.5 829.2,90.2 818.0,78.5" fill="#9467bd" stroke="#9467bd" stroke-width="3.0" stroke-linejoin="round"/>
<polygon points="845.3,74.7 856.5,86.4 845.3,98.1 834.1,86.4" fill="#9467bd" stroke="#9467bd" stroke-width="3.0" stroke-linejoin="round"/>
<polygon points="861.4,100.0 872.6,111.7 861.4,123.4 850.2,111.7" fill="#9467bd" stroke="#9467bd" stroke-width="3.0" stroke-linejoin="round"/>
<polygon points="877.6,74.7 888.8,86.4 877.6,98.1 866.4,86.4" fill="#9467bd" stroke="#9467bd" stroke-width="3.0" stroke-linejoin="round"/>
<polygon points="893.7,82.5 904.9,94.2 893.7,105.9 882.5,94.2" fill="#9467bd" stroke="#9467bd" stroke-width="3.0" stroke-linejoin="round"/>
<polygon points="909.8,82.5 921.0,94.2 909.8,105.9 898.6,94.2" fill="#9467bd" stroke="#9467bd" stroke-width="3.0" stroke-linejoin="round"/>
<polygon points="926.0,82.5 937.2,94.2 926.0,105.9 914.8,94.2" fill="#9467bd" stroke="#9467bd" stroke-width="3.0" stroke-linejoin="round"/>
<polygon points="942.1,66.8 953.3,78.5 942.1,90.2 930.9,78.5" fill="#9467bd" stroke="#9467bd" stroke-width="3.0" stroke-linejoin="round"/>
<polygon points="958.2,74.7 969.4,86.4 958.2,98.1 947.0,86.4" fill="#9467bd" stroke="#9467bd" stroke-width="3.0" stroke-linejoin="round"/>
<polygon points="974.3,74.7 985.5,86.4 974.3,98.1 963.1,86.4" fill="#9467bd" stroke="#9467bd" stroke-width="3.0" stroke-linejoin="round"/>
<polygon points="990.5,82.5 1001.7,94.2 990.5,105.9 979.3,94.2" fill="#9467bd" stroke="#9467bd" stroke-width="3.0" stroke-linejoin="round"/>
<polygon points="1006.6,74.7 1017.8,86.4 1006.6,98.1 995.4,86.4" fill="#9467bd" stroke="#9467bd" stroke-width="3.0" stroke-linejoin="round"/>
<polygon points="1022.7,66.8 1033.9,78.5 1022.7,90.2 1011.5,78.5" fill="#9467bd" stroke="#9467bd" stroke-width="3.0" stroke-linejoin="round"/>
<polygon points="1038.8,66.8 1050.0,78.5 1038.8,90.2 1027.6,78.5" fill="#9467bd" stroke="#9467bd" stroke-width="3.0" stroke-linejoin="round"/>
<polygon points="1055.0,59.0 1066.2,70.7 1055.0,82.4 1043.8,70.7" fill="#9467bd" stroke="#9467bd" stroke-width="3.0" stroke-linejoin="round"/>
<polygon points="1071.1,66.8 1082.3,78.5 1071.1,90.2 1059.9,78.5" fill="#9467bd" stroke="#9467bd" stroke-width="3.0" stroke-linejoin="round"/>
<polygon points="1087.2,74.7 1098.4,86.4 1087.2,98.1 1076.0,86.4" fill="#9467bd" stroke="#9467bd" stroke-width="3.0" stroke-linejoin="round"/>
<polygon points="1103.4,82.5 1114.6,94.2 1103.4,105.9 1092.2,94.2" fill="#9467bd" stroke="#9467bd" stroke-width="3.0" stroke-linejoin="round"/>
<polygon points="1119.5,74.7 1130.7,86.4 1119.5,98.1 1108.3,86.4" fill="#9467bd" stroke="#9467bd" stroke-width="3.0" stroke-linejoin="round"/>
<polygon points="1135.6,50.2 1146.8,61.9 1135.6,73.6 1124.4,61.9" fill="#9467bd" stroke="#9467bd" stroke-width="3.0" stroke-linejoin="round"/>
<polygon points="1151.7,50.2 1162.9,61.9 1151.7,73.6 1140.5,61.9" fill="#9467bd" stroke="#9467bd" stroke-width="3.0" stroke-linejoin="round"/>
<polygon points="1167.9,66.8 1179.1,78.5 1167.9,90.2 1156.7,78.5" fill="#9467bd" stroke="#9467bd" stroke-width="3.0" stroke-linejoin="round"/>
<polygon points="1184.0,74.7 1195.2,86.4 1184.0,98.1 1172.8,86.4" fill="#9467bd" stroke="#9467bd" stroke-width="3.0" stroke-linejoin="round"/>
<polygon points="1200.1,74.7 1211.3,86.4 1200.1,98.1 1188.9,86.4" fill="#9467bd" stroke="#9467bd" stroke-width="3.0" stroke-linejoin="round"/>
<polygon points="1216.3,59.0 1227.5,70.7 1216.3,82.4 1205.1,70.7" fill="#9467bd" stroke="#9467bd" stroke-width="3.0" stroke-linejoin="round"/>
<polygon points="1232.4,66.8 1243.6,78.5 1232.4,90.2 1221.2,78.5" fill="#9467bd" stroke="#9467bd" stroke-width="3.0" stroke-linejoin="round"/>
<polygon points="1248.5,100.0 1259.7,111.7 1248.5,123.4 1237.3,111.7" fill="#9467bd" stroke="#9467bd" stroke-width="3.0" stroke-linejoin="round"/>
<polygon points="1264.6,92.2 1275.8,103.9 1264.6,115.6 1253.4,103.9" fill="#9467bd" stroke="#9467bd" stroke-width="3.0" stroke-linejoin="round"/>
<polygon points="1280.8,59.0 1292.0,70.7 1280.8,82.4 1269.6,70.7" fill="#9467bd" stroke="#9467bd" stroke-width="3.0" stroke-linejoin="round"/>
<polygon points="1296.9,82.5 1308.1,94.2 1296.9,105.9 1285.7,94.2" fill="#9467bd" stroke="#9467bd" stroke-width="3.0" stroke-linejoin="round"/>
<polygon points="1313.0,66.8 1324.2,78.5 1313.0,90.2 1301.8,78.5" fill="#9467bd" stroke="#9467bd" stroke-width="3.0" stroke-linejoin="round"/>
<polygon points="1329.2,66.8 1340.4,78.5 1329.2,90.2 1318.0,78.5" fill="#9467bd" stroke="#9467bd" stroke-width="3.0" stroke-linejoin="round"/>
<polygon points="1345.3,58.1 1356.5,69.8 1345.3,81.5 1334.1,69.8" fill="#9467bd" stroke="#9467bd" stroke-width="3.0" stroke-linejoin="round"/>
</g>
<g id="legend">
<line x1="1086.6" x2="1163.1" y1="511.9" y2="511.9" stroke="#696766" stroke-width="4.0" stroke-linecap="round"/>
<rect x="1114.9" y="501.9" width="20.0" height="20.0" fill="#696766"/>
<text y="524.5" font-size="53.3" fill="#111111"><tspan x="1179.0">3</tspan> <tspan x="1218.6">×</tspan> <tspan x="1260.7">10</tspan><tspan font-size="30" x="1313.5" y="507.2">−</tspan><tspan font-size="30" x="1330.5" y="507.2">1</tspan></text>
<line x1="1086.6" x2="1163.1" y1="554.1" y2="554.1" stroke="#e83046" stroke-width="4.0" stroke-linecap="round"/>
<circle cx="1124.9" cy="554.1" r="10.8" fill="#e83046"/>
<text y="566.7" font-size="53.3" fill="#111111"><tspan x="1179.0">3</tspan> <tspan x="1218.6">×</tspan> <tspan x="1260.7">10</tspan><tspan font-size="30" x="1313.5" y="549.4">−</tspan><tspan font-size="30" x="1330.5" y="549.4">2</tspan></text>
<line x1="1086.6" x2="1163.1" y1="596.3" y2="596.3" stroke="#416abd" stroke-width="4.0" stroke-linecap="round"/>
<polygon points="1124.9,583.8 1136.1,603.3 1113.7,603.3" fill="#416abd" stroke="#416abd" stroke-width="3.0" stroke-linejoin="round"/>
<text y="608.9" font-size="53.3" fill="#111111"><tspan x="1179.0">3</tspan> <tspan x="1218.6">×</tspan> <tspan x="1260.7">10</tspan><tspan font-size="30" x="1313.5" y="591.6">−</tspan><tspan font-size="30" x="1330.5" y="591.6">3</tspan></text>
<line x1="1086.6" x2="1163.1" y1="638.5" y2="638.5" stroke="#4aad6a" stroke-width="4.0" stroke-linecap="round"/>
<polygon points="1124.9,651.0 1136.1,631.5 1113.7,631.5" fill="#4aad6a" stroke="#4aad6a" stroke-width="3.0" stroke-linejoin="round"/>
<text y="651.1" font-size="53.3" fill="#111111"><tspan x="1179.0">3</tspan> <tspan x="1218.6">×</tspan> <tspan x="1260.7">10</tspan><tspan font-size="30" x="1313.5" y="633.8">−</tspan><tspan font-size="30" x="1330.5" y="633.8">4</tspan></text>
<line x1="1086.6" x2="1163.1" y1="680.7" y2="680.7" stroke="#9467bd" stroke-width="4.0" stroke-linecap="round"/>
<polygon points="1124.9,669.0 1136.1,680.7 1124.9,692.4 1113.7,680.7" fill="#9467bd" stroke="#9467bd" stroke-width="3.0" stroke-linejoin="round"/>
<text y="693.3" font-size="53.3" fill="#111111"><tspan x="1179.0">3</tspan> <tspan x="1218.6">×</tspan> <tspan x="1260.7">10</tspan><tspan font-size="30" x="1313.5" y="676.0">−</tspan><tspan font-size="30" x="1330.5" y="676.0">5</tspan></text>
</g>
</svg>
</body>
</html>
